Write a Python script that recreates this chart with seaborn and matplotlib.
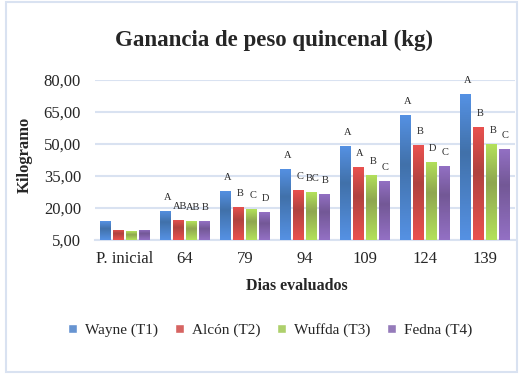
import numpy as np
import pandas as pd
import matplotlib
import matplotlib.pyplot as plt
import seaborn as sns
from matplotlib.colors import LinearSegmentedColormap
from matplotlib.patches import Rectangle

matplotlib.use('Agg')

# data
days = ['P. inicial', '64', '79', '94', '109', '124', '139']
treatments = ['Wayne (T1)', 'Alcón (T2)', 'Wuffda (T3)', 'Fedna (T4)']
wayne = [13.9, 18.6, 28.0, 38.3, 49.1, 63.6, 73.4]
alcon = [9.7, 14.4, 20.5, 28.4, 39.2, 49.5, 58.0]
wuffda = [9.2, 13.9, 19.5, 27.5, 35.5, 41.6, 50.0]
fedna = [9.7, 13.9, 18.1, 26.6, 32.7, 39.7, 47.7]
letters_wayne = ['', 'A', 'A', 'A', 'A', 'A', 'A']
letters_alcon = ['', 'AB', 'B', 'C', 'A', 'B', 'B']
letters_wuffda = ['', 'AB', 'C', 'BC', 'B', 'D', 'B']
letters_fedna = ['', 'B', 'D', 'B', 'C', 'C', 'C']
y_ticks = [5, 20, 35, 50, 65, 80]

light = ['#5591E3', '#E9514F', '#B3E15B', '#9370C4']
dark = ['#4171AA', '#B0423F', '#8FA650', '#735896']

series = [wayne, alcon, wuffda, fedna]
letters = [letters_wayne, letters_alcon, letters_wuffda, letters_fedna]
df = pd.DataFrame({
    'dia': days * 4,
    'trat': np.repeat(treatments, len(days)),
    'kg': np.concatenate(series),
})

sns.set_style('white')
plt.rcParams['font.family'] = ['Liberation Serif', 'DejaVu Serif']

fig = plt.figure(figsize=(5.25, 3.77), dpi=100)
ax = fig.add_axes([95 / 525, 137 / 377, 420 / 525, 160 / 377])

sns.barplot(data=df, x='dia', y='kg', hue='trat', order=days,
            hue_order=treatments, palette=light, width=0.85, gap=0.14,
            ax=ax, zorder=3, legend=True)

handles, labels = ax.get_legend_handles_labels()
ax.get_legend().remove()

ymin, ymax = 5, 80
bars = [p for p in ax.patches if p.get_height() > 0]
# seaborn adds bars hue by hue
for i, p in enumerate(bars):
    k = i // len(days)
    j = i % len(days)
    x0, w = p.get_x(), p.get_width()
    top = p.get_height()
    cmap = LinearSegmentedColormap.from_list(
        'g', [(0, light[k]), (0.4, dark[k]), (1, light[k])])
    grad = np.linspace(0, 1, 64).reshape(-1, 1)
    im = ax.imshow(grad, cmap=cmap, aspect='auto', origin='upper',
                   extent=[x0, x0 + w, ymin, top], zorder=3)
    im.set_clip_path(p)
    p.set_facecolor('none')
    p.set_edgecolor('none')
    if letters[k][j]:
        ax.annotate(letters[k][j], (x0 + w / 2, top), xytext=(1, 10),
                    textcoords='offset points', ha='center', va='center',
                    fontsize=7.5)

ax.set_xlim(-0.5, len(days) - 0.5)
ax.set_ylim(ymin, ymax)
ax.set_yticks(y_ticks)
ax.set_yticklabels([f'{v:.2f}'.replace('.', ',') for v in y_ticks], fontsize=12)
ax.tick_params(axis='x', labelsize=12, pad=8, length=0)
ax.tick_params(axis='y', pad=10, length=0)
ax.grid(axis='y', color='#D9E2F1', lw=1.5, zorder=0)
ax.set_axisbelow(True)
for s in ['top', 'right', 'left']:
    ax.spines[s].set_visible(False)
ax.spines['bottom'].set_color('#D9E2F1')
ax.spines['bottom'].set_linewidth(1.5)
ax.set_xlabel('')
ax.set_ylabel('')

fig.text(274 / 525, 1 - 40 / 377, 'Ganancia de peso quincenal (kg)',
         ha='center', va='center', fontsize=16.5, fontweight='bold')
fig.text(25 / 525, 1 - 155 / 377, 'Kilogramo', rotation=90,
         ha='center', va='center', fontsize=12, fontweight='bold')
fig.text(297 / 525, 1 - 286 / 377, 'Dias evaluados',
         ha='center', va='center', fontsize=11.5, fontweight='bold')

fig.legend(handles, labels, loc='center', bbox_to_anchor=(270 / 525, 1 - 330 / 377),
           ncol=4, frameon=False, fontsize=11, handlelength=0.6,
           handleheight=0.6, handletextpad=0.5, columnspacing=1.1)

fig.patches.append(Rectangle((6 / 525, 5 / 377), 511 / 525, 370 / 377,
                             transform=fig.transFigure, fill=False,
                             edgecolor='#D9E2F1', lw=1.5))

fig.savefig('out.png', dpi=100)
